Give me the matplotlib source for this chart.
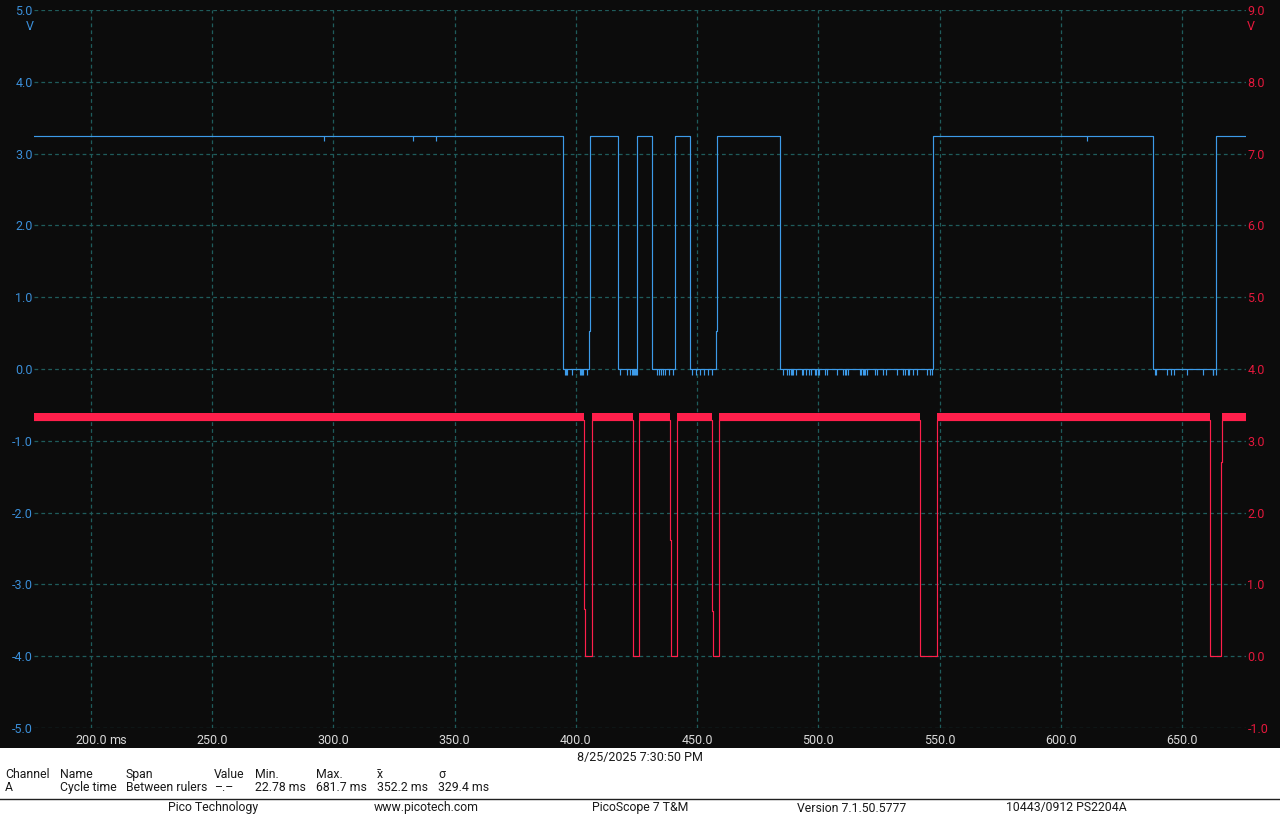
import matplotlib
matplotlib.use("Agg")
import matplotlib.pyplot as plt
from matplotlib.patches import Rectangle
from matplotlib.lines import Line2D

plt.rcParams['font.family'] = ['Roboto', 'DejaVu Sans']
plt.rcParams['font.size'] = 9

# time window of the capture (ms)
t_start = 176.5
t_end = 676.4

# channel A (blue, left axis, V) - level changes, steps-post
blue_t = [176.5, 394.8, 405.5, 405.9, 417.5, 425.3, 431.5, 441.0, 447.2, 457.9,
          458.3, 484.3, 547.4, 638.1, 664.1, 676.4]
blue_v = [3.25, 0.0, 0.53, 3.25, 0.0, 3.25, 0.0, 3.25, 0.0, 0.53,
          3.25, 0.0, 3.25, 0.0, 3.25, 3.25]
# short negative spikes seen while channel A is low
blue_low_spikes = [395.5, 395.9, 396.3, 398.4, 401.7, 402.1, 402.5, 402.9, 404.7,
                   418.2, 420.9, 422.3, 423.1, 423.5, 423.9, 424.4, 424.8, 425.2,
                   433.6, 434.4, 435.2, 436.1, 436.9, 438.5, 440.2,
                   447.8, 449.5, 451.2, 452.9, 454.6, 456.0,
                   485.3, 486.9, 488.0, 488.6, 489.1, 489.7, 490.8, 493.3, 493.8,
                   494.9, 496.3, 496.8, 498.7, 499.2, 499.7, 500.1, 502.9, 503.4,
                   507.8, 510.3, 510.8, 511.4, 512.3, 517.2, 517.7, 518.3, 518.8,
                   519.4, 519.9, 523.5, 524.3, 526.8, 527.9, 532.3, 535.0, 535.9,
                   536.9, 537.5, 538.9, 540.8, 544.9, 546.0, 546.9,
                   638.8, 639.2, 643.9, 645.4, 646.8, 652.2, 658.8, 662.6, 662.9, 664.0]
blue_spike_low = -0.09
# small dips while channel A is high
blue_high_glitches = [296.1, 332.8, 342.3, 610.8]
blue_glitch_low = 3.17

# channel B (red, right axis, V)
red_t = [176.5, 403.5, 403.9, 406.8, 423.7, 426.1, 439.0, 439.4, 441.8, 456.0,
         456.4, 459.1, 541.9, 549.1, 661.7, 666.2, 666.6, 676.4]
red_v = [3.29, 0.66, 0.0, 3.29, 0.0, 3.29, 1.62, 0.0, 3.29, 0.63,
         0.0, 3.29, 0.0, 3.29, 0.0, 2.71, 3.29, 3.29]
red_high = 3.29
red_noise_top = 3.39

x_ticks = [200, 250, 300, 350, 400, 450, 500, 550, 600, 650]
left_ticks = [-5, -4, -3, -2, -1, 0, 1, 2, 3, 4, 5]
right_ticks = [-1, 0, 1, 2, 3, 4, 5, 6, 7, 8, 9]

bg = "#0c0c0c"
blue = "#3d9be9"
red = "#ff1f4b"
blue_lbl = "#3b8fd9"
red_lbl = "#e5183c"
grid_c = "#1f5c5c"
xlbl_c = "#d9d9d9"

W, H = 1280, 814
fig = plt.figure(figsize=(W / 100, H / 100), dpi=100, facecolor="white")

# dark scope background above the info panel
fig.add_artist(Rectangle((0, 66 / H), 1, 1 - 66 / H, transform=fig.transFigure,
                         facecolor=bg, edgecolor="none", zorder=-5))

ax = fig.add_axes([34 / W, 1 - 728 / H, (1246 - 34) / W, (728 - 10) / H])
ax.set_facecolor(bg)
ax.set_xlim(t_start, t_end)
ax.set_ylim(-5, 5)
for s in ax.spines.values():
    s.set_visible(False)

for xt in x_ticks:
    ax.axvline(xt, color=grid_c, lw=0.9, ls=(0, (3, 2.5)), zorder=0)
for yt in left_ticks:
    ax.axhline(yt, color=grid_c, lw=0.9, ls=(0, (3, 2.5)), zorder=0)

ax.set_xticks(x_ticks)
ax.set_xticklabels(["%.1f" % v for v in x_ticks])
ax.tick_params(axis="x", length=0, pad=4, colors=xlbl_c, labelsize=9)
# unit follows the first label, the number itself stays centred on its gridline
ax.annotate("ms", xy=(x_ticks[0], 0), xycoords=ax.get_xaxis_transform(),
            xytext=(13.0, -4), textcoords="offset points", ha="left", va="top",
            color=xlbl_c, fontsize=9)
ax.set_yticks(left_ticks)
ax.set_yticklabels(["%.1f" % v for v in left_ticks])
ax.tick_params(axis="y", length=0, pad=1, colors=blue_lbl, labelsize=9)

ax.step(blue_t, blue_v, where="post", color=blue, lw=0.85, zorder=3)
ax.vlines(blue_low_spikes, blue_spike_low, 0, color=blue, lw=0.85, zorder=3)
ax.vlines(blue_high_glitches, blue_glitch_low, 3.25, color=blue, lw=0.85, zorder=3)

ax2 = ax.twinx()
ax2.set_ylim(-1, 9)
ax2.set_xlim(t_start, t_end)
for s in ax2.spines.values():
    s.set_visible(False)
ax2.set_yticks(right_ticks)
ax2.set_yticklabels(["%.1f" % v for v in right_ticks])
ax2.tick_params(axis="y", length=0, pad=1, colors=red_lbl, labelsize=9)

ax2.step(red_t, red_v, where="post", color=red, lw=0.85, zorder=3)
# noise band on the high level of channel B
spans = []
for i in range(len(red_t) - 1):
    if red_v[i] >= red_high:
        spans.append((red_t[i], red_t[i + 1] - red_t[i]))
ax2.broken_barh(spans, (red_high, red_noise_top - red_high), facecolor=red,
                edgecolor="none", zorder=3)

fig.text(29.5 / W, 1 - 27 / H, "V", color=blue_lbl, ha="center", va="center", fontsize=9)
fig.text(1251 / W, 1 - 27 / H, "V", color=red_lbl, ha="center", va="center", fontsize=9)

# info panel
txt_c = "#1a1a1a"
fig.text(640 / W, 1 - 758 / H, "8/25/2025 7:30:50 PM", ha="center", va="center",
         color=txt_c, fontsize=9)
cols_x = [5, 60, 126, 214, 255, 316, 377, 438]
header = ["Channel", "Name", "Span", "Value", "Min.", "Max.", "x\u0304", "\u03c3"]
row = ["A", "Cycle time", "Between rulers", "\u2013.\u2013", "22.78 ms", "681.7 ms",
       "352.2 ms", "329.4 ms"]
for cx, h, r in zip(cols_x, header, row):
    fig.text(cx / W, 1 - 774.5 / H, h, ha="left", va="center", color=txt_c, fontsize=8.8)
    fig.text(cx / W, 1 - 787.5 / H, r, ha="left", va="center", color=txt_c, fontsize=8.8)

fig.add_artist(Line2D([0, 1], [1 - 799 / H, 1 - 799 / H], transform=fig.transFigure,
                      color="#202020", lw=1.0))

footer = [(213, "Pico Technology"), (426, "www.picotech.com"), (640, "PicoScope 7 T&M"),
          (852, "Version 7.1.50.5777"), (1066, "10443/0912 PS2204A")]
for fx, s in footer:
    fig.text(fx / W, 1 - 808 / H, s, ha="center", va="center", color=txt_c, fontsize=8.8)

fig.savefig("out.png", dpi=100, facecolor="white")
